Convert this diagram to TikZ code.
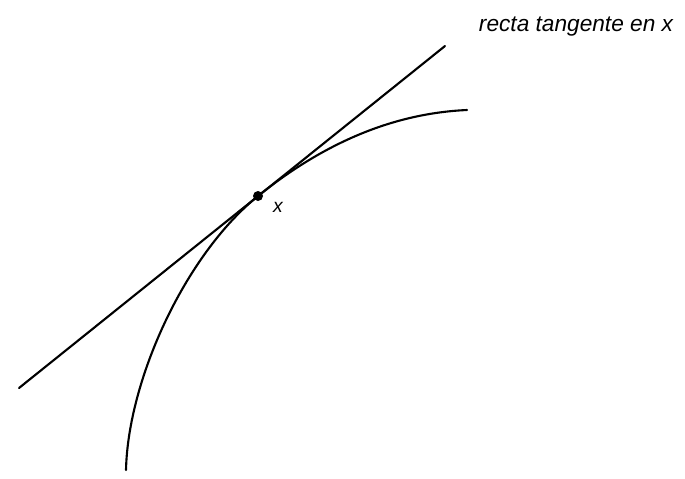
\documentclass[tikz,border=0pt]{standalone}
\usepackage{fontspec}
\setmainfont{Liberation Sans}
\usepackage{tikz}
\usepackage{xcolor}

\begin{document}
\begin{tikzpicture}[x=0.02cm,y=-0.02cm,line width=1.2pt,line cap=round,font=\fontsize{12.9}{15}\selectfont\itshape]
\useasboundingbox (0,0) rectangle (685,478);
\coordinate (tA) at (19,388);
\coordinate (tB) at (445,46);
\coordinate (p) at (258,196);
\draw (tA) -- (tB);
\draw (126,470) .. controls (128,380) and (185,255) .. (p)
  .. controls (330,138) and (400,113) .. (467,110);
\fill (p) circle (5);
\node[font=\fontsize{11}{13}\selectfont\itshape] (lx) at (278,207) {x};
\node (ltan) at (576,27) {recta tangente en x};
\end{tikzpicture}
\end{document}
